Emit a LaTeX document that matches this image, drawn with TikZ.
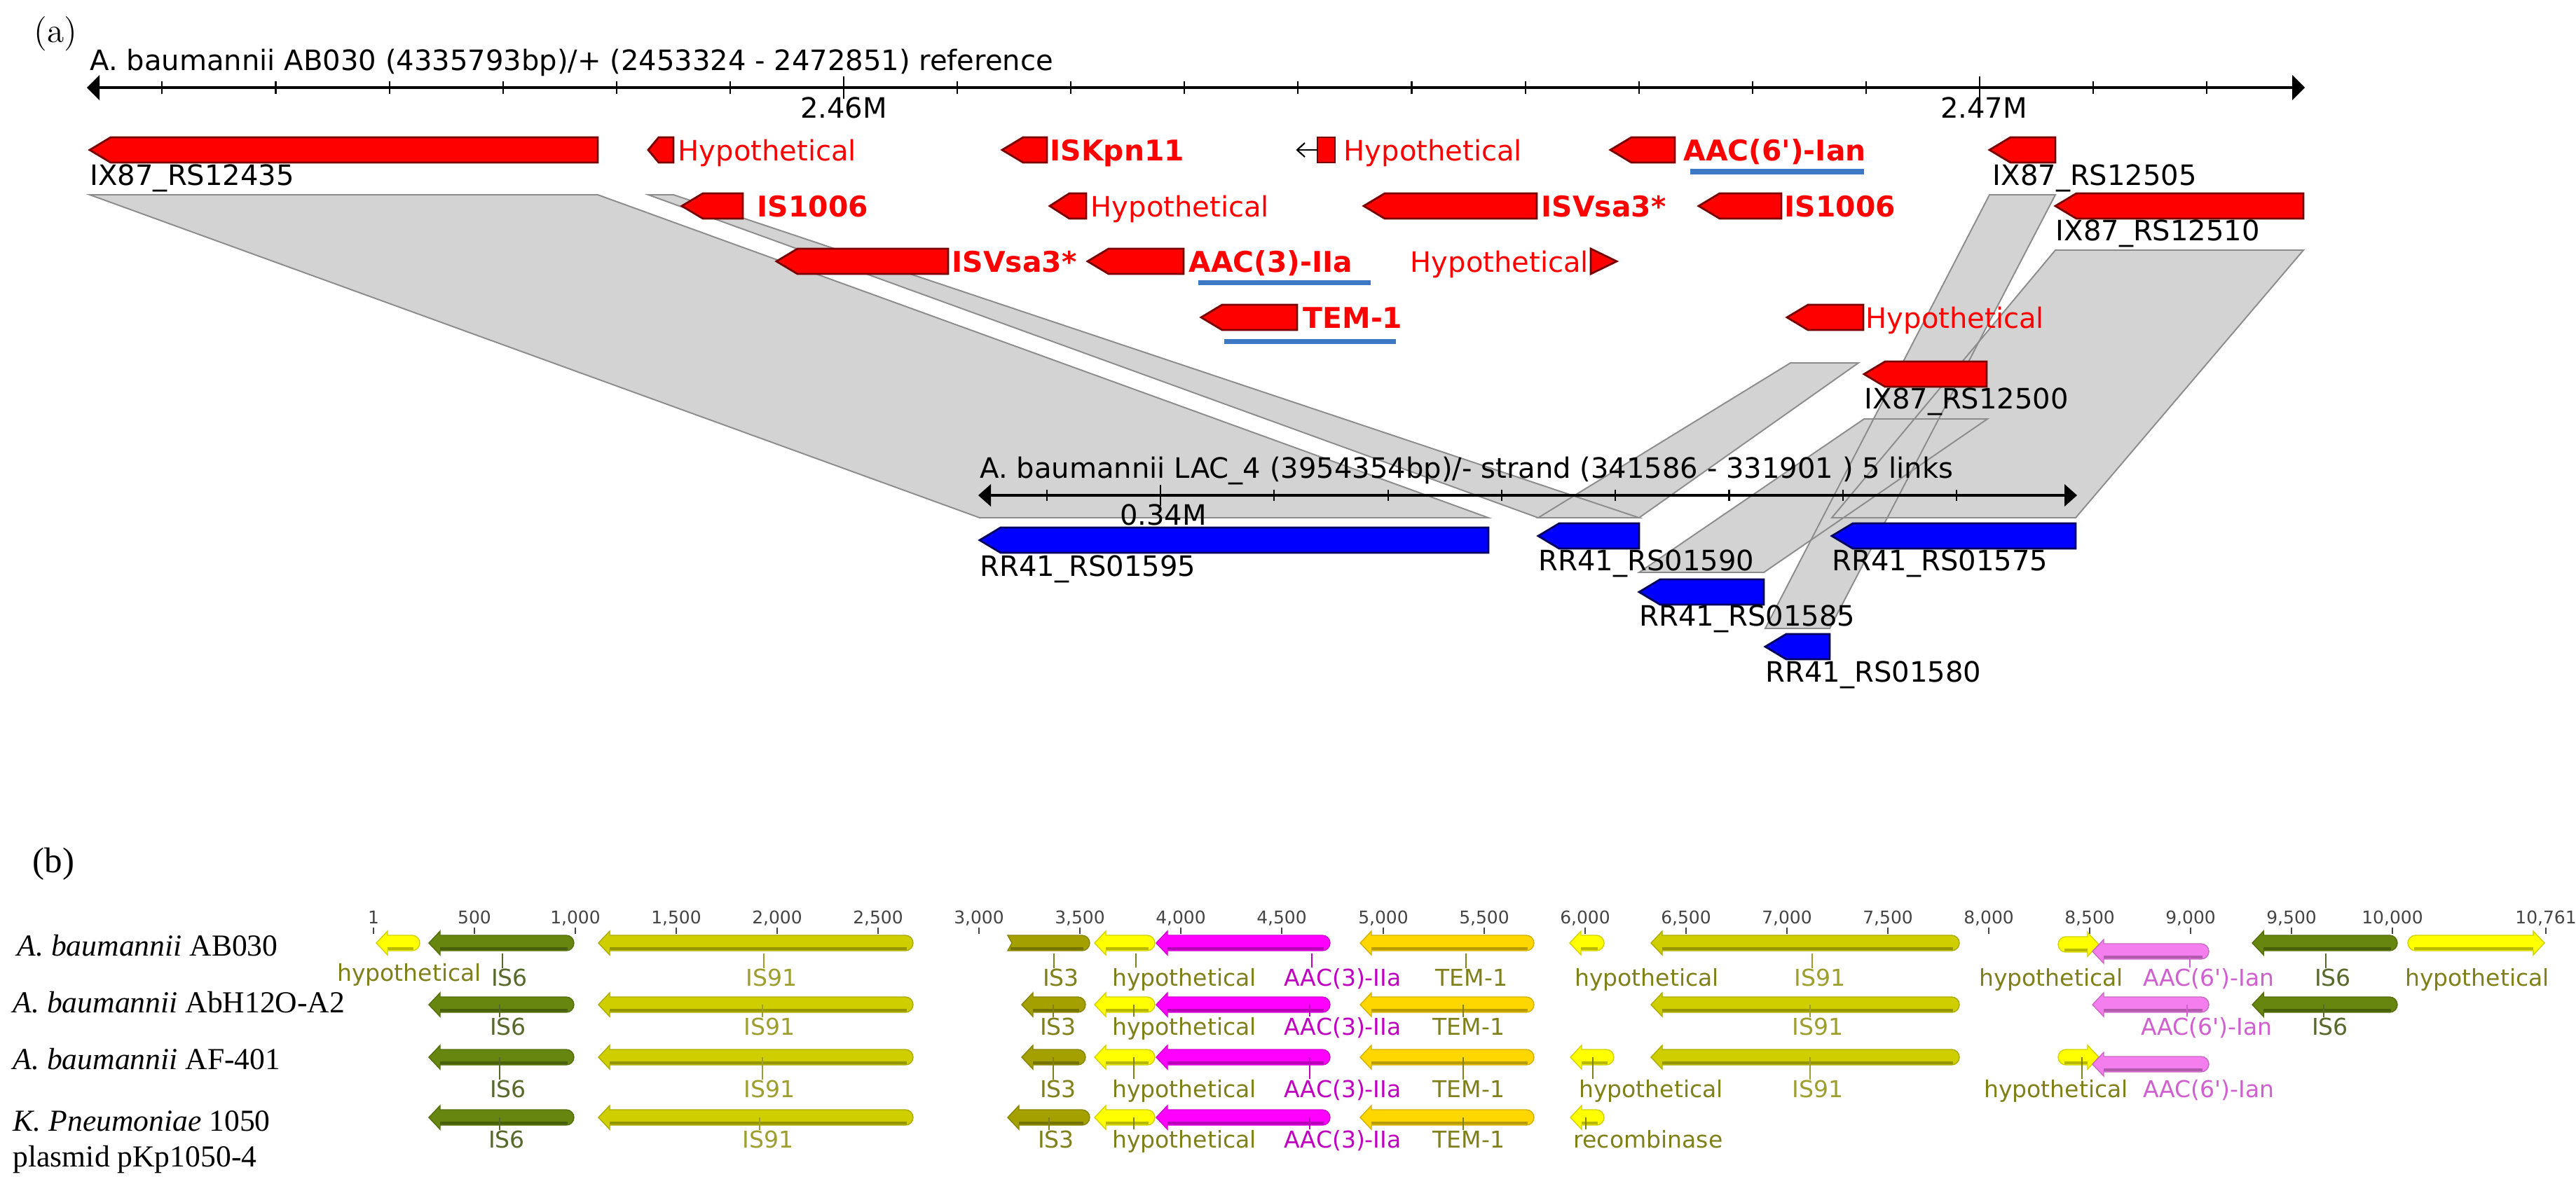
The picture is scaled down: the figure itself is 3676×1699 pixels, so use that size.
\documentclass[tikz,border=0pt]{standalone}
\usepackage{fontspec}
\newfontfamily\tms{Liberation Serif}
\newfontfamily\dvs{DejaVu Sans}
\definecolor{gred}{HTML}{FF0000}
\definecolor{gredd}{HTML}{7A0000}
\definecolor{gblue}{HTML}{0000FF}
\definecolor{gblued}{HTML}{00005E}
\definecolor{linkf}{HTML}{D3D3D3}
\definecolor{linkd}{HTML}{8C8C8C}
\definecolor{ulblue}{HTML}{3C78C3}
\definecolor{cISsix}{HTML}{66860F}
\definecolor{cISnine}{HTML}{CFCF00}
\definecolor{cISthree}{HTML}{A3A000}
\definecolor{chyp}{HTML}{FFFF00}
\definecolor{cmag}{HTML}{FF00FF}
\definecolor{ctem}{HTML}{FFD700}
\definecolor{cian}{HTML}{F57EEF}
\definecolor{tolive}{HTML}{80801A}
\definecolor{tissix}{HTML}{56692A}
\definecolor{tisnine}{HTML}{9E9E2E}
\definecolor{tmag}{HTML}{C000C0}
\definecolor{tian}{HTML}{D060D0}
\definecolor{tnum}{HTML}{444444}
\newcommand{\fA}{\dvs\fontsize{11.4pt}{13pt}\selectfont}
\newcommand{\fAb}{\dvs\bfseries\fontsize{11.6pt}{13pt}\selectfont}
\newcommand{\fB}{\dvs\fontsize{9.4pt}{11pt}\selectfont}
\newcommand{\fN}{\dvs\fontsize{7.1pt}{8pt}\selectfont}
\newcommand{\fS}{\tms\fontsize{12.4pt}{14pt}\selectfont}
\newcommand{\fP}{\fontsize{14pt}{16pt}\selectfont}
\newcommand{\fPb}{\tms\fontsize{14.5pt}{16pt}\selectfont}
% gene arrows panel (a): style, x1, x2, yc, head, half height
\newcommand{\mkgL}[6]{\filldraw[#1] (#2,#4) -- ({#2+#5},{#4-#6}) -- (#3,{#4-#6}) -- (#3,{#4+#6}) -- ({#2+#5},{#4+#6}) -- cycle;}
% gene arrows panel (b): color, x1, x2, yc  (body half 11, head half 17, head length 16)
\newcommand{\mkbL}[4]{\filldraw[fill=#1, draw=#1!82!black, line width=0.4pt] (#2,#4) -- ({#2+16},{#4-17}) -- ({#2+16},{#4-11}) -- ({#3-11},{#4-11}) .. controls ({#3-5},{#4-11}) and (#3,{#4-6}) .. (#3,#4) .. controls (#3,{#4+6}) and ({#3-5},{#4+11}) .. ({#3-11},{#4+11}) -- ({#2+16},{#4+11}) -- ({#2+16},{#4+17}) -- cycle;
 \draw[#1!72!black, line width=1.1pt] ({#2+16},{#4+8}) -- ({#3-9},{#4+8});}
\newcommand{\mkbR}[4]{\filldraw[fill=#1, draw=#1!82!black, line width=0.4pt] (#3,#4) -- ({#3-16},{#4-17}) -- ({#3-16},{#4-11}) -- ({#2+11},{#4-11}) .. controls ({#2+5},{#4-11}) and (#2,{#4-6}) .. (#2,#4) .. controls (#2,{#4+6}) and ({#2+5},{#4+11}) .. ({#2+11},{#4+11}) -- ({#3-16},{#4+11}) -- ({#3-16},{#4+17}) -- cycle;
 \draw[#1!72!black, line width=1.1pt] ({#3-16},{#4+8}) -- ({#2+9},{#4+8});}
\newcommand{\mkbN}[4]{\filldraw[fill=#1, draw=#1!82!black, line width=0.4pt] (#2,{#4-11}) -- ({#3-11},{#4-11}) .. controls ({#3-5},{#4-11}) and (#3,{#4-6}) .. (#3,#4) .. controls (#3,{#4+6}) and ({#3-5},{#4+11}) .. ({#3-11},{#4+11}) -- (#2,{#4+11}) -- ({#2+6},#4) -- cycle;
 \draw[#1!72!black, line width=1.1pt] ({#2+4},{#4+8}) -- ({#3-9},{#4+8});}
% labels
\newcommand{\rl}[4]{\node[anchor=base west, font=\fA, text=gred, inner sep=0] (#1) at (#2,#3) {#4};}
\newcommand{\rb}[4]{\node[anchor=base west, font=\fAb, text=gred, inner sep=0] (#1) at (#2,#3) {#4};}
\newcommand{\kl}[4]{\node[anchor=base west, font=\fA, inner sep=0] (#1) at (#2,#3) {#4};}
\newcommand{\lbl}[7]{\node[anchor=base, font=\fB, text=#4, inner sep=0] (#1) at (#2,#3) {#5};
 \draw[#4, line width=0.5pt] (#6,#7) -- (#6,0 |- #1.north);}
\newcommand{\lbn}[5]{\node[anchor=base, font=\fB, text=#4, inner sep=0] (#1) at (#2,#3) {#5};}
\begin{document}
\begin{tikzpicture}[x=0.01cm,y=-0.01cm,
  redg/.style={fill=gred, draw=gredd, line width=0.8pt},
  blug/.style={fill=gblue, draw=gblued, line width=0.8pt},
  axisline/.style={line width=1.1pt},
  ul/.style={ulblue, line width=2pt}]
\useasboundingbox (0,0) rectangle (3676,1699);
\fill[white] (0,0) rectangle (3676,1699);

% ---------------- panel (a) ----------------
\node[anchor=base west, font=\fP, inner sep=0] (pa) at (48,60) {(a)};

% links
\fill[linkf] (128,278) -- (853,278) -- (2124,739) -- (1398,739) -- cycle;
\fill[linkf] (925,278) -- (961,278) -- (2339,739) -- (2195,739) -- cycle;
\fill[linkf] (2555,518) -- (2652,518) -- (2339,739) -- (2195,739) -- cycle;
\fill[linkf] (2933,357) -- (3287,357) -- (2962,739) -- (2614,739) -- cycle;
\fill[linkf] (2660,598) -- (2836,598) -- (2517,817) -- (2339,817) -- cycle;
\fill[linkf] (2839,278) -- (2933,278) -- (2611,897) -- (2519,897) -- cycle;
\begin{scope}[linkd, line width=0.55pt]
\draw (128,278) -- (853,278) -- (2124,739) -- (1398,739) -- cycle;
\draw (925,278) -- (961,278) -- (2339,739) -- (2195,739) -- cycle;
\draw (2555,518) -- (2652,518) -- (2339,739) -- (2195,739) -- cycle;
\draw (2933,357) -- (3287,357) -- (2962,739) -- (2614,739) -- cycle;
\draw (2660,598) -- (2836,598) -- (2517,817) -- (2339,817) -- cycle;
\draw (2839,278) -- (2933,278) -- (2611,897) -- (2519,897) -- cycle;
\end{scope}

% top axis
\node[anchor=base west, font=\fA, inner sep=0] (ttl) at (128,100) {A. baumannii AB030 (4335793bp)/+ (2453324 - 2472851) reference};
\draw[axisline] (136,125) -- (3279,125);
\fill (124,125) -- (142,107) -- (142,143) -- cycle;
\fill (3289,125) -- (3271,107) -- (3271,143) -- cycle;
\foreach \k in {-6,...,12} \draw[line width=0.6pt] ({1204+162.1*\k},116) -- ({1204+162.1*\k},134);
\draw[line width=0.6pt] (1204,109) -- (1204,141);
\draw[line width=0.6pt] (2825,109) -- (2825,141);
\node[anchor=base, font=\fA, inner sep=0] (m246) at (1204,168) {2.46M};
\node[anchor=base, font=\fA, inner sep=0] (m247) at (2831,168) {2.47M};

% row 1
\mkgL{redg}{128}{853}{214}{30}{18}
\mkgL{redg}{925}{961}{214}{15}{18}
\mkgL{redg}{1430}{1494}{214}{30}{18}
\filldraw[redg] (1880,196) rectangle (1905,232);
\draw[line width=0.6pt] (1880,214) -- (1851,214);
\draw[line width=0.6pt] (1862,204) -- (1851,214) -- (1862,224);
\mkgL{redg}{2298}{2390}{214}{30}{18}
\mkgL{redg}{2839}{2933}{214}{30}{18}
\kl{l1}{128}{264}{IX87\_RS12435}
\rl{l2}{967}{229}{Hypothetical}
\rb{l3}{1498}{229}{ISKpn11}
\rl{l4}{1917}{229}{Hypothetical}
\rb{l5}{2402}{229}{AAC(6\textquotesingle)-Ian}
\draw[ul] (2412,245) -- (2660,245);
\kl{l6}{2843}{264}{IX87\_RS12505}

% row 2
\mkgL{redg}{973}{1060}{294}{30}{18}
\mkgL{redg}{1498}{1550}{294}{28}{18}
\mkgL{redg}{1946}{2193}{294}{30}{18}
\mkgL{redg}{2424}{2542}{294}{30}{18}
\mkgL{redg}{2933}{3287}{294}{30}{18}
\rb{l7}{1080}{309}{IS1006}
\rl{l8}{1556}{309}{Hypothetical}
\rb{l9}{2199}{309}{ISVsa3*}
\rb{l10}{2546}{309}{IS1006}
\kl{l11}{2933}{343}{IX87\_RS12510}

% row 3
\mkgL{redg}{1108}{1353}{373}{30}{18}
\mkgL{redg}{1552}{1689}{373}{30}{18}
\filldraw[redg] (2270,355) -- (2307,373) -- (2270,391) -- cycle;
\rb{l12}{1358}{388}{ISVsa3*}
\rb{l13}{1696}{388}{AAC(3)-IIa}
\draw[ul] (1710,403) -- (1956,403);
\rl{l14}{2012}{388}{Hypothetical}

% row 4
\mkgL{redg}{1714}{1851}{453}{30}{18}
\mkgL{redg}{2550}{2659}{453}{30}{18}
\rb{l15}{1859}{468}{TEM-1}
\draw[ul] (1747,487) -- (1992,487);
\rl{l16}{2662}{468}{Hypothetical}

% row 5
\mkgL{redg}{2660}{2835}{534}{30}{18}
\kl{l17}{2660}{583}{IX87\_RS12500}

% bottom axis
\node[anchor=base west, font=\fA, inner sep=0] (ttl2) at (1398,682) {A. baumannii LAC\_4 (3954354bp)/- strand (341586 - 331901 ) 5 links};
\draw[axisline] (1408,707) -- (2952,707);
\fill (1396,707) -- (1414,691) -- (1414,723) -- cycle;
\fill (2964,707) -- (2946,691) -- (2946,723) -- cycle;
\foreach \k in {-1,...,7} \draw[line width=0.6pt] ({1656+162.3*\k},699) -- ({1656+162.3*\k},715);
\draw[line width=0.6pt] (1656,692) -- (1656,722);
\node[anchor=base, font=\fA, inner sep=0] (m034) at (1660,749) {0.34M};

\mkgL{blug}{1398}{2124}{771}{30}{18}
\mkgL{blug}{2195}{2339}{765}{30}{18}
\mkgL{blug}{2614}{2962}{765}{30}{18}
\mkgL{blug}{2339}{2517}{845}{30}{18}
\mkgL{blug}{2519}{2611}{923}{30}{18}
\kl{b1}{1398}{822}{RR41\_RS01595}
\kl{b2}{2195}{814}{RR41\_RS01590}
\kl{b3}{2614}{814}{RR41\_RS01575}
\kl{b4}{2339}{893}{RR41\_RS01585}
\kl{b5}{2519}{973}{RR41\_RS01580}

% ---------------- panel (b) ----------------
\node[anchor=base west, font=\fPb, inner sep=0] (pb) at (46,1245) {(b)};

\foreach \xx/\lab [count=\i] in {533/1, 677/500, 821/{1,000}, 965/{1,500}, 1109/{2,000}, 1253/{2,500}, 1397/{3,000}, 1541/{3,500}, 1685/{4,000}, 1829/{4,500}, 1974/{5,000}, 2118/{5,500}, 2262/{6,000}, 2406/{6,500}, 2550/{7,000}, 2694/{7,500}, 2838/{8,000}, 2982/{8,500}, 3126/{9,000}, 3270/{9,500}, 3414/{10,000}, 3633/{10,761}} {
  \node[anchor=base, font=\fN, text=tnum, inner sep=0] (sc\i) at (\xx,1318) {\lab};
  \draw[tnum, line width=0.5pt] (\xx,1324) -- (\xx,1333);
}

% species names
\node[anchor=base west, font=\fS, inner sep=0] (sp1) at (24,1364) {\textit{A. baumannii} AB030};
\node[anchor=base west, font=\fS, inner sep=0] (sp2) at (18,1445) {\textit{A. baumannii} AbH12O-A2};
\node[anchor=base west, font=\fS, inner sep=0] (sp3) at (18,1526) {\textit{A. baumannii} AF-401};
\node[anchor=base west, font=\fS, inner sep=0] (sp4) at (18,1614) {\textit{K. Pneumoniae} 1050};
\node[anchor=base west, font=\fS, inner sep=0] (sp5) at (18,1665) {plasmid pKp1050-4};

% row 1
\mkbL{chyp}{537}{599}{1346}
\mkbL{cISsix}{612}{819}{1346}
\mkbL{cISnine}{854}{1303}{1346}
\mkbN{cISthree}{1438}{1555}{1346}
\mkbL{chyp}{1562}{1648}{1346}
\mkbL{cmag}{1650}{1898}{1346}
\mkbL{ctem}{1941}{2189}{1346}
\mkbL{chyp}{2240}{2289}{1346}
\mkbL{cISnine}{2356}{2796}{1346}
\mkbR{chyp}{2937}{2995}{1348}
\mkbL{cian}{2986}{3152}{1358}
\mkbL{cISsix}{3214}{3421}{1346}
\mkbR{chyp}{3436}{3631}{1346}
\lbn{r1a}{584}{1400}{tolive}{hypothetical}
\lbl{r1b}{727}{1407}{tissix}{IS6}{717}{1361}
\lbl{r1c}{1101}{1407}{tisnine}{IS91}{1090}{1361}
\lbl{r1d}{1514}{1407}{tolive}{IS3}{1504}{1361}
\lbl{r1e}{1690}{1407}{tolive}{hypothetical}{1621}{1361}
\lbl{r1f}{1916}{1407}{tmag}{AAC(3)-IIa}{1872}{1361}
\lbl{r1g}{2100}{1407}{tolive}{TEM-1}{2092}{1361}
\lbn{r1h}{2350}{1407}{tolive}{hypothetical}
\lbl{r1i}{2597}{1407}{tisnine}{IS91}{2586}{1361}
\lbn{r1j}{2927}{1407}{tolive}{hypothetical}
\lbl{r1k}{3152}{1407}{tian}{AAC(6\textquotesingle)-Ian}{3125}{1366}
\lbl{r1l}{3329}{1407}{tissix}{IS6}{3319}{1361}
\lbn{r1m}{3535}{1407}{tolive}{hypothetical}

% row 2
\mkbL{cISsix}{612}{819}{1434}
\mkbL{cISnine}{854}{1303}{1434}
\mkbL{cISthree}{1458}{1549}{1434}
\mkbL{chyp}{1562}{1648}{1434}
\mkbL{cmag}{1650}{1898}{1434}
\mkbL{ctem}{1941}{2189}{1434}
\mkbL{cISnine}{2356}{2796}{1434}
\mkbL{cian}{2986}{3152}{1434}
\mkbL{cISsix}{3214}{3421}{1434}
\lbl{r2a}{725}{1477}{tissix}{IS6}{713}{1434}
\lbl{r2b}{1098}{1477}{tisnine}{IS91}{1088}{1434}
\lbl{r2c}{1510}{1477}{tolive}{IS3}{1503}{1434}
\lbl{r2d}{1690}{1477}{tolive}{hypothetical}{1618}{1434}
\lbl{r2e}{1916}{1477}{tmag}{AAC(3)-IIa}{1869}{1434}
\lbl{r2f}{2096}{1477}{tolive}{TEM-1}{2088}{1434}
\lbl{r2g}{2594}{1477}{tisnine}{IS91}{2583}{1434}
\lbl{r2h}{3149}{1477}{tian}{AAC(6\textquotesingle)-Ian}{3121}{1434}
\lbl{r2i}{3325}{1477}{tissix}{IS6}{3316}{1434}

% row 3
\mkbL{cISsix}{612}{819}{1509}
\mkbL{cISnine}{854}{1303}{1509}
\mkbL{cISthree}{1458}{1549}{1509}
\mkbL{chyp}{1562}{1648}{1509}
\mkbL{cmag}{1650}{1898}{1509}
\mkbL{ctem}{1941}{2189}{1509}
\mkbL{chyp}{2241}{2303}{1509}
\mkbL{cISnine}{2356}{2796}{1509}
\mkbR{chyp}{2937}{2995}{1509}
\mkbL{cian}{2986}{3152}{1519}
\lbl{r3a}{725}{1566}{tissix}{IS6}{713}{1509}
\lbl{r3b}{1098}{1566}{tisnine}{IS91}{1088}{1509}
\lbl{r3c}{1510}{1566}{tolive}{IS3}{1503}{1509}
\lbl{r3d}{1690}{1566}{tolive}{hypothetical}{1618}{1509}
\lbl{r3e}{1916}{1566}{tmag}{AAC(3)-IIa}{1869}{1509}
\lbl{r3f}{2096}{1566}{tolive}{TEM-1}{2088}{1509}
\lbl{r3g}{2356}{1566}{tolive}{hypothetical}{2273}{1509}
\lbl{r3h}{2594}{1566}{tisnine}{IS91}{2583}{1509}
\lbl{r3i}{2934}{1566}{tolive}{hypothetical}{2971}{1509}
\lbn{r3j}{3152}{1566}{tian}{AAC(6\textquotesingle)-Ian}

% row 4
\mkbL{cISsix}{612}{819}{1595}
\mkbL{cISnine}{854}{1303}{1595}
\mkbL{cISthree}{1438}{1555}{1595}
\mkbL{chyp}{1562}{1648}{1595}
\mkbL{cmag}{1650}{1898}{1595}
\mkbL{ctem}{1941}{2189}{1595}
\mkbL{chyp}{2241}{2289}{1595}
\lbl{r4a}{723}{1638}{tissix}{IS6}{713}{1595}
\lbl{r4b}{1096}{1638}{tisnine}{IS91}{1084}{1595}
\lbl{r4c}{1507}{1638}{tolive}{IS3}{1497}{1595}
\lbl{r4d}{1690}{1638}{tolive}{hypothetical}{1618}{1595}
\lbl{r4e}{1916}{1638}{tmag}{AAC(3)-IIa}{1869}{1595}
\lbl{r4f}{2096}{1638}{tolive}{TEM-1}{2088}{1595}
\lbl{r4g}{2352}{1638}{tolive}{recombinase}{2263}{1595}
\end{tikzpicture}
\end{document}
